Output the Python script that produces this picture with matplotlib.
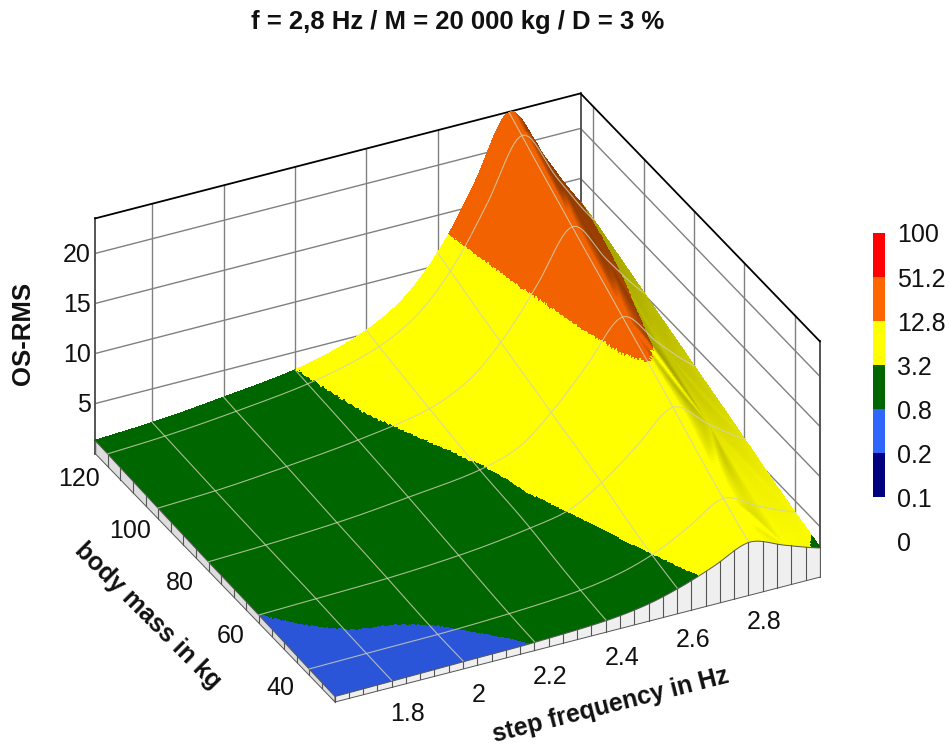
import numpy as np
import matplotlib
matplotlib.use("Agg")
import matplotlib.pyplot as plt
import matplotlib.tri as mtri
from mpl_toolkits.mplot3d import proj3d
from mpl_toolkits.mplot3d.art3d import Poly3DCollection

plt.rcParams["font.family"] = ["Liberation Sans", "DejaVu Sans"]

# values
step_freq = [1.64, 1.8, 2.0, 2.2, 2.4, 2.5, 2.6, 2.7, 2.8, 2.9, 3.0]
body_mass = [30, 40, 60, 80, 100, 120, 125]
os_rms_m30 = [0.55, 0.62, 0.72, 0.82, 1.15, 1.6, 2.5, 3.8, 5.3, 4.1, 2.9]
os_rms_m40 = [0.62, 0.70, 0.76, 1.0, 1.5, 2.1, 3.2, 5.0, 7.0, 5.3, 3.8]
os_rms_m60 = [0.80, 0.95, 1.15, 1.6, 2.5, 3.2, 5.2, 8.0, 10.9, 8.3, 5.9]
os_rms_m80 = [0.90, 1.1, 1.5, 2.2, 3.1, 4.2, 7.0, 10.8, 14.7, 11.2, 8.0]
os_rms_m100 = [1.05, 1.3, 1.9, 2.7, 4.0, 5.6, 8.8, 13.5, 18.5, 14.2, 10.1]
os_rms_m120 = [1.25, 1.55, 2.2, 3.1, 5.0, 7.0, 10.7, 16.3, 22.4, 17.2, 12.2]
os_rms_m125 = [1.3, 1.6, 2.3, 3.2, 5.3, 7.4, 11.2, 17.0, 23.4, 18.0, 12.6]

freq_ticks = [1.8, 2.0, 2.2, 2.4, 2.6, 2.8]
freq_labels = ["1.8", "2", "2.2", "2.4", "2.6", "2.8"]
mass_ticks = [40, 60, 80, 100, 120]
rms_ticks = [5, 10, 15, 20]
levels = [0, 0.1, 0.2, 0.8, 3.2, 12.8, 51.2, 100]
level_labels = ["100", "51.2", "12.8", "3.2", "0.8", "0.2", "0.1", "0"]
surface_colors = ["#000080", "#000080", "#2b55d9", "#006600", "#ffff00", "#f26200", "#ff0000"]
legend_colors = ["#000080", "#2f66ff", "#006600", "#ffff00", "#ff6600", "#ff0000"]

FMIN, FMAX = step_freq[0], step_freq[-1]
MMIN, MMAX = body_mass[0], body_mass[-1]
ZMIN, ZMAX = 0, 23.5
W, H = 949, 746

fig = plt.figure(figsize=(W / 100, H / 100), dpi=100)

# square 3D axes placed so the box centre lands on the picture's box centre
side = 787
ax = fig.add_axes(
    [53.4 / W, -55.6 / H, side / W, side / H], projection="3d", computed_zorder=False
)
ax.set_proj_type("ortho")
ax.view_init(elev=31.1, azim=-116.5)
ax.set_box_aspect((542, 536, 274.5))
ax.set_xlim(FMIN, FMAX, view_margin=0)
ax.set_ylim(MMIN, MMAX, view_margin=0)
ax.set_zlim(ZMIN, ZMAX, view_margin=0)
ax.set_xticks([])
ax.set_yticks([])
ax.set_zticks([])
ax.set_axis_off()
ax.patch.set_alpha(0)
ax.apply_aspect()

# surface mesh, refined on log values so the bands stay smooth
table = np.array(
    [os_rms_m30, os_rms_m40, os_rms_m60, os_rms_m80, os_rms_m100, os_rms_m120, os_rms_m125]
)
grid_f, grid_m = np.meshgrid(step_freq, body_mass)
# scale mass so the triangulation is not stretched
mass_scale = 0.014
tri_base = mtri.Triangulation(grid_f.ravel(), grid_m.ravel() * mass_scale)
log_interp = mtri.CubicTriInterpolator(tri_base, np.log(table.ravel()), kind="geom")


def rms_at(f, m):
    return np.exp(log_interp(np.asarray(f, float), np.asarray(m, float) * mass_scale).filled(0))


def label_at(f, m, z, text, **kwargs):
    # plain figure text placed through the 3D projection
    x, y, _ = proj3d.proj_transform(f, m, z, ax.get_proj())
    px, py = ax.transData.transform((x, y))
    fig.text(px / W, py / H, text, va="center", color="#111111", **kwargs)


refiner = mtri.UniformTriRefiner(tri_base)
tri_fine = refiner.refine_triangulation(subdiv=5)
fine_f = tri_fine.x
fine_m = tri_fine.y / mass_scale
fine_z = rms_at(fine_f, fine_m)
corners = np.stack([fine_f, fine_m, fine_z], axis=1)[tri_fine.triangles]

# flat band colour per triangle, darkened when the surface turns away from the viewer
center_f = corners[:, :, 0].mean(axis=1)
center_m = corners[:, :, 1].mean(axis=1)
center_z = corners[:, :, 2].mean(axis=1)
grad_f, grad_y = log_interp.gradient(center_f, center_m * mass_scale)
slope_f = np.asarray(grad_f.filled(0)) * center_z * 10.0 / (542 / (FMAX - FMIN))
slope_m = np.asarray(grad_y.filled(0)) * mass_scale * center_z * 10.0 / (536 / (MMAX - MMIN))
normals = np.stack([-slope_f, -slope_m, np.ones_like(slope_f)], axis=1)
normals /= np.linalg.norm(normals, axis=1)[:, None]
az, el = np.radians(-116.5), np.radians(31.1)
view = np.array([np.cos(el) * np.cos(az), np.cos(el) * np.sin(az), np.sin(el)])
shade = np.clip(0.48 + 1.0 * (normals @ view), 0.62, 1.0)[:, None]
band = np.clip(np.digitize(center_z, levels) - 1, 0, 6)
base_rgb = np.array([matplotlib.colors.to_rgb(c) for c in surface_colors])
face_rgb = base_rgb[band] * shade

# back walls
wall_gray = "#808080"
for z in rms_ticks:
    ax.plot([FMIN, FMAX, FMAX], [MMAX, MMAX, MMIN], [z, z, z], color=wall_gray, lw=1.0, zorder=1)
for f in freq_ticks:
    ax.plot([f, f], [MMAX, MMAX], [ZMIN, ZMAX], color=wall_gray, lw=1.0, zorder=1)
for m in mass_ticks:
    ax.plot([FMAX, FMAX], [m, m], [ZMIN, ZMAX], color=wall_gray, lw=1.0, zorder=1)
ax.plot([FMIN, FMIN], [MMAX, MMAX], [ZMIN, ZMAX], color="#555555", lw=1.4, zorder=1)
ax.plot([FMAX, FMAX], [MMAX, MMAX], [ZMIN, ZMAX], color="#555555", lw=1.4, zorder=1)
ax.plot([FMAX, FMAX], [MMIN, MMIN], [ZMIN, ZMAX], color="#555555", lw=1.4, zorder=1)
ax.plot([FMIN, FMAX, FMAX], [MMAX, MMAX, MMIN], [ZMAX, ZMAX, ZMAX], color="black", lw=1.3, zorder=2)

surface = Poly3DCollection(
    corners, facecolors=face_rgb, edgecolors=face_rgb, linewidths=0.5, antialiased=False, zorder=3
)
ax.add_collection3d(surface)

# skirts below the surface on the two front edges
edge_f = np.linspace(FMIN, FMAX, 141)
edge_m = np.linspace(MMIN, MMAX, 96)
top_front = rms_at(edge_f, np.full_like(edge_f, MMIN))
top_left = rms_at(np.full_like(edge_m, FMIN), edge_m)
front_wall = list(zip(edge_f, np.full_like(edge_f, MMIN), top_front))
front_wall += [(FMAX, MMIN, 0), (FMIN, MMIN, 0)]
left_wall = list(zip(np.full_like(edge_m, FMIN), edge_m, top_left))
left_wall += [(FMIN, MMAX, 0), (FMIN, MMIN, 0)]
ax.add_collection3d(
    Poly3DCollection([front_wall], facecolors="#efefef", edgecolors="#555555", linewidths=0.7, zorder=4)
)
ax.add_collection3d(
    Poly3DCollection([left_wall], facecolors="#dddddd", edgecolors="#555555", linewidths=0.7, zorder=4)
)
for f in np.arange(FMIN, FMAX, 0.04):
    top = rms_at(f, MMIN)
    ax.plot([f, f], [MMIN, MMIN], [0, top], color="#555555", lw=0.8, zorder=5)
for m in np.arange(MMIN, MMAX, 5):
    top = rms_at(FMIN, m)
    ax.plot([FMIN, FMIN], [m, m], [0, top], color="#555555", lw=0.8, zorder=5)

# grid lines lying on the surface
grid_color = "#d2d2b8"
for f in freq_ticks:
    line_m = np.linspace(MMIN, MMAX, 120)
    line_f = np.full_like(line_m, f)
    ax.plot(line_f, line_m, rms_at(line_f, line_m) + 0.03, color=grid_color, lw=0.8, alpha=0.8, zorder=6)
for m in mass_ticks:
    line_f = np.linspace(FMIN, FMAX, 160)
    line_m = np.full_like(line_f, m)
    ax.plot(line_f, line_m, rms_at(line_f, line_m) + 0.03, color=grid_color, lw=0.8, alpha=0.8, zorder=6)

# tick labels anchored in data space
tick_size = 18
for f, lab in zip(freq_ticks, freq_labels):
    label_at(f - 0.022, MMIN - 9.5, 0, lab, ha="center", fontsize=tick_size)
for m in mass_ticks:
    label_at(FMIN - 0.08, m, -0.5, str(m), ha="center", fontsize=tick_size)
for z in rms_ticks:
    label_at(FMIN - 0.012, MMAX, z, str(z), ha="right", fontsize=tick_size)

fig.text(458 / W, 1 - 22 / H, "f = 2,8 Hz / M = 20 000 kg / D = 3 %", ha="center", va="center",
         fontsize=18.5, fontweight="bold", color="#111111")
fig.text(23 / W, 1 - 333 / H, "OS-RMS", rotation=90, ha="center", va="center",
         fontsize=18.5, fontweight="bold", color="#111111")
fig.text(148 / W, 1 - 616 / H, "body mass in kg", rotation=-45, ha="center", va="center",
         rotation_mode="anchor", fontsize=18, fontweight="bold", color="#111111")
fig.text(611 / W, 1 - 705 / H, "step frequency in Hz", rotation=14.3, ha="center", va="center",
         rotation_mode="anchor", fontsize=17.9, fontweight="bold", color="#111111")

# level legend on the right
cax = fig.add_axes([873 / W, 1 - 541.5 / H, 12 / W, 308.5 / H])
for i, col in enumerate(legend_colors):
    cax.bar(0.5, 1, bottom=i + 1, width=1, color=col)
cax.set_xlim(0, 1)
cax.set_ylim(0, 7)
cax.set_xticks([])
cax.yaxis.tick_right()
cax.set_yticks(range(8))
cax.set_yticklabels(level_labels[::-1], fontsize=tick_size, color="#111111")
cax.tick_params(axis="y", length=0, pad=9)
for spine in cax.spines.values():
    spine.set_visible(False)

fig.savefig("out.png", dpi=100)
